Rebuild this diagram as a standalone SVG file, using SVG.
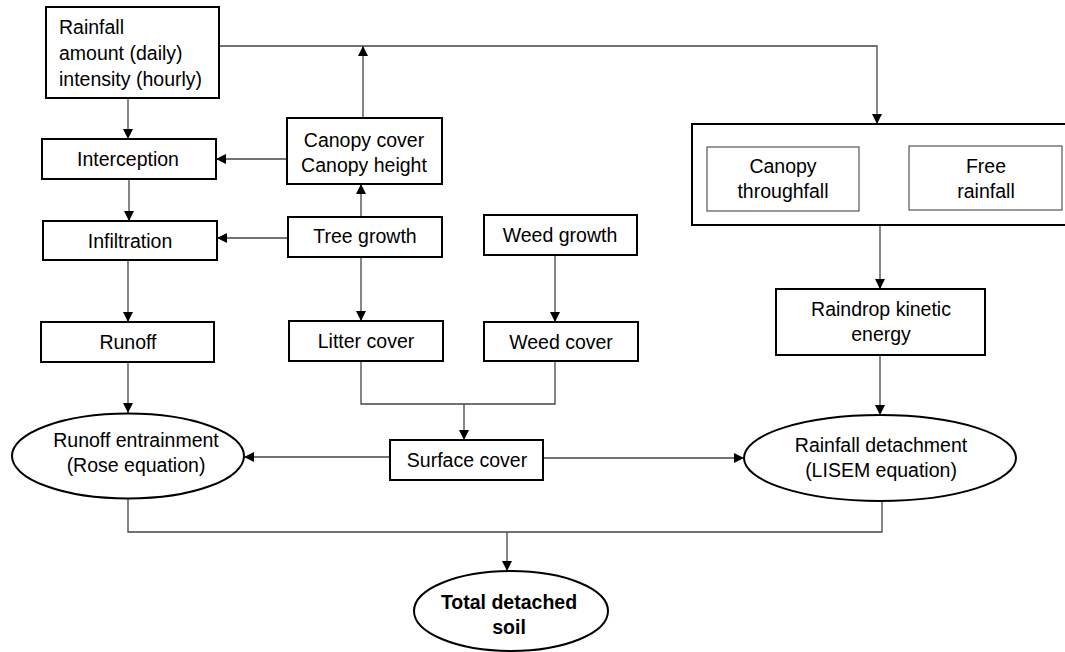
<svg xmlns="http://www.w3.org/2000/svg" width="1065" height="652" viewBox="0 0 1065 652">
<style>
.box{fill:#fff;stroke:#000;stroke-width:2}
.inner{fill:#fff;stroke:#555;stroke-width:1.2}
.t{font-family:"Liberation Sans",Arial,sans-serif;font-size:19.5px;fill:#000}
.c{text-anchor:middle}
.b{font-weight:bold}
.con{fill:none;stroke:#444;stroke-width:1.3}
</style>
<defs>
<marker id="ah" markerUnits="userSpaceOnUse" markerWidth="10" markerHeight="10" viewBox="0 0 10 10" refX="10" refY="5" orient="auto">
<path d="M0,0 L10,5 L0,10 z" fill="#000"/>
</marker>
</defs>
<rect x="0" y="0" width="1065" height="652" fill="#fff"/>
<g id="connectors">
<path class="con" d="M128,98 V139" marker-end="url(#ah)"/>
<path class="con" d="M219,46 H877 V124" marker-end="url(#ah)"/>
<path class="con" d="M363,118 V46" marker-end="url(#ah)"/>
<path class="con" d="M287,159 H216" marker-end="url(#ah)"/>
<path class="con" d="M129,179 V221" marker-end="url(#ah)"/>
<path class="con" d="M361,217 V184" marker-end="url(#ah)"/>
<path class="con" d="M288,238 H217" marker-end="url(#ah)"/>
<path class="con" d="M128,260 V322" marker-end="url(#ah)"/>
<path class="con" d="M361,257 V321" marker-end="url(#ah)"/>
<path class="con" d="M555,255 V322" marker-end="url(#ah)"/>
<path class="con" d="M361,361 V404 H555 V361"/>
<path class="con" d="M464,404 V440" marker-end="url(#ah)"/>
<path class="con" d="M390,457 H244" marker-end="url(#ah)"/>
<path class="con" d="M543,458 H744" marker-end="url(#ah)"/>
<path class="con" d="M128,362 V413" marker-end="url(#ah)"/>
<path class="con" d="M880,225 V289" marker-end="url(#ah)"/>
<path class="con" d="M880,355 V415" marker-end="url(#ah)"/>
<path class="con" d="M128,499 V532 H882 V501"/>
<path class="con" d="M507,532 V571" marker-end="url(#ah)"/>
</g>
<g id="rainfall">
<rect class="box" x="46" y="7" width="173" height="91"/>
<text class="t" x="59" y="34">Rainfall</text>
<text class="t" x="59" y="60">amount (daily)</text>
<text class="t" x="59" y="86">intensity (hourly)</text>
</g>
<g id="interception">
<rect class="box" x="42" y="139" width="174" height="40"/>
<text class="t c" x="128" y="166">Interception</text>
</g>
<g id="canopy">
<rect class="box" x="287" y="118" width="155" height="66"/>
<text class="t c" x="364" y="147">Canopy cover</text>
<text class="t c" x="364" y="172">Canopy height</text>
</g>
<g id="throughfall-group">
<rect class="box" x="692" y="124" width="380" height="101"/>
</g>
<g id="canopy-throughfall">
<rect class="inner" x="707" y="147" width="152" height="64"/>
<text class="t c" x="783" y="173">Canopy</text>
<text class="t c" x="783" y="198">throughfall</text>
</g>
<g id="free-rainfall">
<rect class="inner" x="909" y="146" width="153" height="64"/>
<text class="t c" x="986" y="173">Free</text>
<text class="t c" x="986" y="198">rainfall</text>
</g>
<g id="infiltration">
<rect class="box" x="43" y="221" width="174" height="39"/>
<text class="t c" x="130" y="248">Infiltration</text>
</g>
<g id="tree-growth">
<rect class="box" x="288" y="217" width="154" height="40"/>
<text class="t c" x="365" y="243">Tree growth</text>
</g>
<g id="weed-growth">
<rect class="box" x="484" y="215" width="153" height="40"/>
<text class="t c" x="560" y="242">Weed growth</text>
</g>
<g id="runoff">
<rect class="box" x="41" y="322" width="173" height="40"/>
<text class="t c" x="128" y="349">Runoff</text>
</g>
<g id="litter-cover">
<rect class="box" x="289" y="321" width="154" height="40"/>
<text class="t c" x="366" y="348">Litter cover</text>
</g>
<g id="weed-cover">
<rect class="box" x="484" y="322" width="154" height="39"/>
<text class="t c" x="561" y="349">Weed cover</text>
</g>
<g id="raindrop-energy">
<rect class="box" x="776" y="289" width="209" height="66"/>
<text class="t c" x="881" y="316">Raindrop kinetic</text>
<text class="t c" x="881" y="341">energy</text>
</g>
<g id="surface-cover">
<rect class="box" x="390" y="440" width="153" height="40"/>
<text class="t c" x="467" y="467">Surface cover</text>
</g>
<g id="runoff-entrainment">
<ellipse class="box" cx="128" cy="456" rx="116" ry="42.5"/>
<text class="t c" x="136" y="447">Runoff entrainment</text>
<text class="t c" x="136" y="472">(Rose equation)</text>
</g>
<g id="rainfall-detachment">
<ellipse class="box" cx="880" cy="458" rx="136" ry="43"/>
<text class="t c" x="881" y="452">Rainfall detachment</text>
<text class="t c" x="881" y="477">(LISEM equation)</text>
</g>
<g id="total-detached">
<ellipse class="box" cx="511" cy="611" rx="97" ry="40"/>
<text class="t c b" x="509" y="609">Total detached</text>
<text class="t c b" x="509" y="634">soil</text>
</g>
</svg>
